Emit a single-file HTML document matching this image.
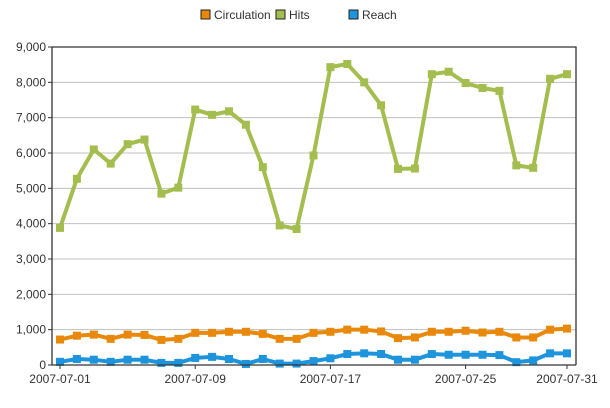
<!DOCTYPE html>
<html><head><meta charset="utf-8"><style>
body{margin:0;background:#fff;font-family:"Liberation Sans","DejaVu Sans",sans-serif;}
svg text{font-family:"Liberation Sans","DejaVu Sans",sans-serif;font-size:12px;fill:#333;}
</style></head><body>
<svg id="chart" width="610" height="403">
<g id="legend">
 <g><rect x="201" y="10" width="9" height="9" fill="#e8890c" stroke="#222" stroke-width="1"/><text x="214" y="19">Circulation</text></g>
 <g><rect x="276" y="10" width="9" height="9" fill="#a4bd4f" stroke="#222" stroke-width="1"/><text x="289" y="19">Hits</text></g>
 <g><rect x="349" y="10" width="9" height="9" fill="#1d94db" stroke="#222" stroke-width="1"/><text x="362" y="19">Reach</text></g>
</g>
<g id="grid"></g><g id="series"></g><g id="axes"></g>
</svg>
<script>
const categories=[];for(let d=1;d<=31;d++)categories.push('2007-07-'+String(d).padStart(2,'0'));
const xTickLabels=['2007-07-01','2007-07-09','2007-07-17','2007-07-25','2007-07-31'];
const yTicks=[0,1000,2000,3000,4000,5000,6000,7000,8000,9000];
const hits=[3880,5270,6100,5700,6250,6380,4850,5020,7230,7080,7180,6800,5600,3950,3850,5930,8430,8520,8000,7350,5550,5560,8230,8300,7980,7840,7760,5650,5580,8100,8230];
const circulation=[720,830,860,740,860,850,710,740,910,910,940,940,880,740,740,910,940,1000,1000,950,760,780,940,940,970,920,940,780,780,1000,1030];
const reach=[90,170,150,90,150,150,60,60,200,230,170,30,170,40,40,110,190,310,330,310,150,150,310,290,290,290,280,80,130,330,330];
const L=52,R=576,T=47,B=365,X0=60,X1=567;
const xs=i=>X0+(X1-X0)*i/(categories.length-1);
const ys=v=>B-(B-T)*v/9000;
const NS='http://www.w3.org/2000/svg';
function mk(tag,attrs,parent){const e=document.createElementNS(NS,tag);for(const k in attrs)e.setAttribute(k,attrs[k]);parent.appendChild(e);return e;}
const grid=document.getElementById('grid'),axes=document.getElementById('axes'),ser=document.getElementById('series');
yTicks.forEach(v=>{
 if(v>0&&v<9000){const l=mk('line',{x1:L,x2:R,y1:ys(v),y2:ys(v),stroke:'#c0c0c0','stroke-width':1},grid);
 
 }
 const tk=mk('line',{x1:L-4,x2:L,y1:ys(v),y2:ys(v),stroke:'#333'},axes);
 
 
 const t=mk('text',{x:L-6,y:ys(v)+4,'text-anchor':'end'},axes);t.textContent=v.toLocaleString('en-US');
 
 
});
const fr=mk('path',{d:`M${L},${T}H${R}V${B}M${L},${T}V${B}H${R}`,fill:'none',stroke:'#333','stroke-width':1.3},axes);


xTickLabels.forEach(lab=>{const i=categories.indexOf(lab);const x=xs(i);
 const tk=mk('line',{x1:x,x2:x,y1:B,y2:B+4,stroke:'#333'},axes);
 
 
 const t=mk('text',{x:x,y:B+18,'text-anchor':'middle'},axes);t.textContent=lab;
 
 });
function draw(vals,color,name){
 const g=mk('g',{},ser);
 
 
 const p=mk('polyline',{points:vals.map((v,i)=>xs(i)+','+ys(v)).join(' '),fill:'none',stroke:color,'stroke-width':4,'stroke-linejoin':'round'},g);
 
 
 vals.forEach((v,i)=>{const r=mk('rect',{x:xs(i)-4,y:ys(v)-4,width:8,height:8,fill:color},g);
  
  });
}
draw(hits,'#a4bd4f','hits');draw(circulation,'#e8890c','circulation');draw(reach,'#1d94db','reach');
</script>
</body></html>
